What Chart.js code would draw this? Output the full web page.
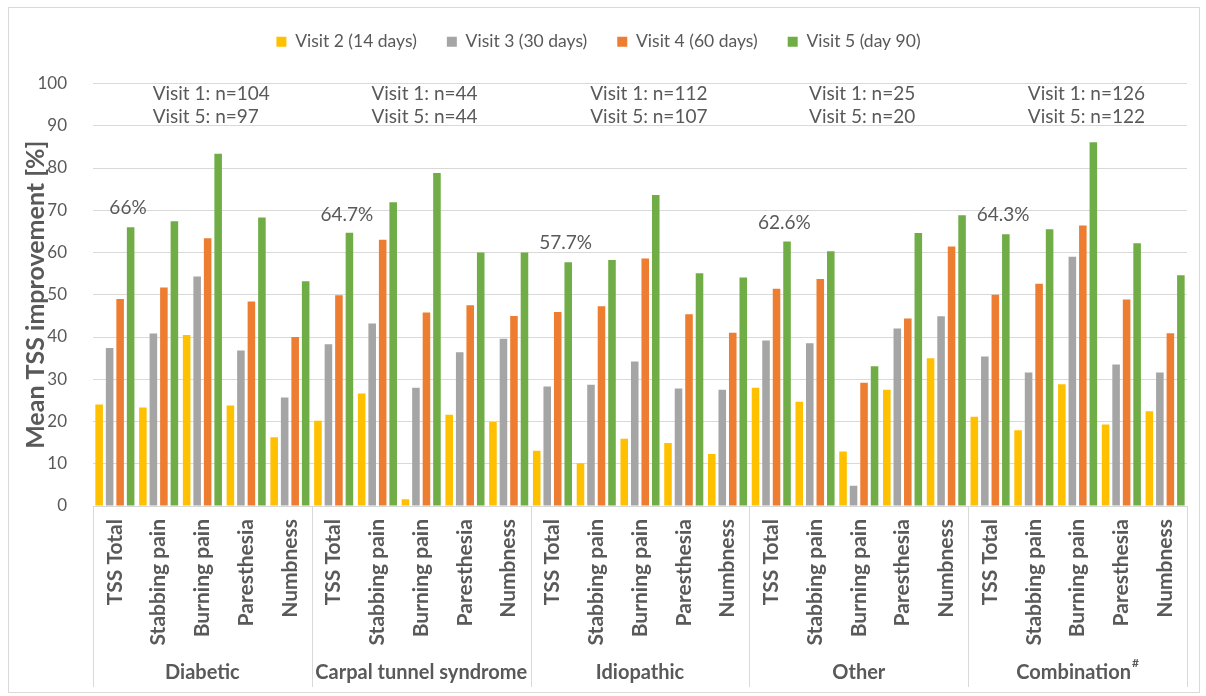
<!DOCTYPE html>
<html>
<head>
<meta charset="utf-8">
<title>Mean TSS improvement</title>
<script src="https://cdn.jsdelivr.net/npm/chart.js@4.4.1/dist/chart.umd.min.js"></script>
<style>
  html, body { margin: 0; padding: 0; background: #fff; }
  #wrap { width: 1206px; height: 696px; }
</style>
</head>
<body>
<div id="wrap"><canvas id="tss-chart" width="1206" height="696"></canvas></div>
<script>
// Categories
const symptoms = ['TSS Total', 'Stabbing pain', 'Burning pain', 'Paresthesia', 'Numbness'];
const groups = ['Diabetic', 'Carpal tunnel syndrome', 'Idiopathic', 'Other', 'Combination'];
const groupMarks = ['', '', '', '', '#'];
const seriesNames = ['Visit 2 (14 days)', 'Visit 3 (30 days)', 'Visit 4 (60 days)', 'Visit 5 (day 90)'];
const seriesColors = ['#FFC000', '#A5A5A5', '#ED7D31', '#70AD47'];

// Mean TSS improvement [%], 5 symptoms per group, groups in order above
const visit2 = [24.0, 23.3, 40.5, 23.8, 16.3,  20.2, 26.6, 1.6, 21.6, 19.9,  13.1, 10.1, 15.9, 14.9, 12.3,  28.0, 24.7, 12.9, 27.5, 35.0,  21.1, 17.9, 28.8, 19.3, 22.4];
const visit3 = [37.4, 40.8, 54.3, 36.8, 25.7,  38.3, 43.2, 28.0, 36.4, 39.6,  28.3, 28.7, 34.2, 27.8, 27.5,  39.2, 38.5, 4.8, 42.0, 44.9,  35.4, 31.6, 59.0, 33.5, 31.6];
const visit4 = [49.0, 51.7, 63.4, 48.4, 40.0,  49.9, 63.0, 45.8, 47.5, 45.0,  45.9, 47.3, 58.6, 45.4, 41.0,  51.4, 53.7, 29.2, 44.4, 61.4,  50.0, 52.6, 66.4, 48.9, 40.9];
const visit5 = [66.0, 67.4, 83.4, 68.3, 53.2,  64.7, 71.9, 78.8, 60.0, 60.0,  57.7, 58.2, 73.6, 55.1, 54.1,  62.6, 60.3, 33.1, 64.6, 68.8,  64.3, 65.5, 86.1, 62.2, 54.6];

// Y axis ticks
const yMin = 0;
const yMax = 100;
const yStep = 10;

// Annotations
const visit1N = [104, 44, 112, 25, 126];
const visit5N = [97, 44, 107, 20, 122];
const tssLabels = ['66%', '64.7%', '57.7%', '62.6%', '64.3%'];
const tssLabelLevels = [70.6, 69.0, 62.3, 67.1, 69.0];

const FONT = 'Lato, "Open Sans", sans-serif';
const TEXT = '#595959';
const LINE = '#d9d9d9';

const labels = groups.flatMap(() => symptoms);
const values = [visit2, visit3, visit4, visit5];

// Extra room between the legend and the plot
const legendSpacing = {
    id: 'legendSpacing',
    beforeInit(chart) {
        const legend = chart.legend;
        const fit = legend.fit;
        legend.fit = function () {
            fit.call(this);
            this.height += 23;
        };
    }
};

// Frame, group dividers and group names under the category labels
const groupAxisPlugin = {
    id: 'groupAxis',
    beforeDraw(chart) {
        const ctx = chart.ctx;
        ctx.save();
        ctx.fillStyle = '#fff';
        ctx.fillRect(0, 0, chart.width, chart.height);
        ctx.strokeStyle = LINE;
        ctx.lineWidth = 1;
        ctx.strokeRect(8.5, 7.5, 1191, 685);
        ctx.restore();
    },
    afterDraw(chart) {
        const { ctx, chartArea } = chart;
        const x = chart.scales.x;
        const per = symptoms.length;
        const edges = [];
        for (let g = 0; g <= groups.length; g++) {
            if (g === 0) edges.push(chartArea.left);
            else if (g === groups.length) edges.push(chartArea.right);
            else edges.push((x.getPixelForValue(g * per - 1) + x.getPixelForValue(g * per)) / 2);
        }
        ctx.save();
        ctx.strokeStyle = LINE;
        ctx.lineWidth = 1;
        edges.forEach(px => {
            const xx = Math.round(px) + 0.5;
            ctx.beginPath();
            ctx.moveTo(xx, chartArea.bottom);
            ctx.lineTo(xx, 687);
            ctx.stroke();
        });
        ctx.fillStyle = TEXT;
        ctx.textBaseline = 'middle';
        groups.forEach((name, g) => {
            const cx = (edges[g] + edges[g + 1]) / 2;
            ctx.font = 'bold 20px ' + FONT;
            const w = ctx.measureText(name).width;
            ctx.font = 'bold 12px ' + FONT;
            const mw = groupMarks[g] ? ctx.measureText(groupMarks[g]).width + 1 : 0;
            const start = cx - (w + mw) / 2;
            ctx.font = 'bold 20px ' + FONT;
            ctx.textAlign = 'left';
            ctx.fillText(name, start, 673);
            if (groupMarks[g]) {
                ctx.font = 'bold 12px ' + FONT;
                ctx.fillText(groupMarks[g], start + w + 1, 663);
            }
        });
        ctx.restore();
    },
    afterDatasetsDraw(chart) {
        const ctx = chart.ctx;
        const x = chart.scales.x;
        const y = chart.scales.y;
        const per = symptoms.length;
        const catW = x.getPixelForValue(1) - x.getPixelForValue(0);
        ctx.save();
        ctx.fillStyle = TEXT;
        ctx.font = '19px ' + FONT;
        ctx.textBaseline = 'middle';
        groups.forEach((_, g) => {
            ctx.textAlign = 'left';
            const lx = x.getPixelForValue(g * per + 1) - 6;
            ctx.fillText('Visit 1: n=' + visit1N[g], lx, y.getPixelForValue(97.6));
            ctx.fillText('Visit 5: n=' + visit5N[g], lx, y.getPixelForValue(92.2));
            ctx.textAlign = 'center';
            const px = x.getPixelForValue(g * per) + 0.3 * catW;
            ctx.fillText(tssLabels[g], px, y.getPixelForValue(tssLabelLevels[g]));
        });
        ctx.restore();
    }
};

new Chart(document.getElementById('tss-chart'), {
    type: 'bar',
    data: {
        labels: labels,
        datasets: values.map((data, i) => ({
            label: seriesNames[i],
            data: data,
            backgroundColor: seriesColors[i],
            borderWidth: 0,
            categoryPercentage: 0.96,
            barPercentage: 0.72
        }))
    },
    options: {
        responsive: false,
        animation: false,
        devicePixelRatio: 1,
        layout: { padding: { top: 3, left: 10, right: 19, bottom: 0 } },
        scales: {
            x: {
                grid: { display: false, drawTicks: false },
                border: { display: false },
                ticks: {
                    autoSkip: false,
                    minRotation: 90,
                    maxRotation: 90,
                    padding: 13,
                    color: TEXT,
                    font: { family: FONT, size: 21, weight: 'bold' }
                },
                afterFit(scale) { scale.height = 190; }
            },
            y: {
                min: yMin,
                max: yMax,
                grid: { color: LINE, drawTicks: false },
                border: { display: false },
                ticks: {
                    stepSize: yStep,
                    padding: 26,
                    color: TEXT,
                    font: { family: FONT, size: 17 }
                },
                title: {
                    display: true,
                    text: 'Mean TSS improvement [%]',
                    color: TEXT,
                    padding: { top: 11, bottom: 0 },
                    font: { family: FONT, size: 25, weight: 'bold' }
                },
                afterFit(scale) { scale.width = 83; }
            }
        },
        plugins: {
            legend: {
                position: 'top',
                labels: {
                    boxWidth: 10,
                    boxHeight: 10,
                    padding: 30,
                    color: TEXT,
                    font: { family: FONT, size: 17.5 }
                }
            },
            tooltip: { enabled: false }
        }
    },
    plugins: [legendSpacing, groupAxisPlugin]
});
</script>
</body>
</html>
